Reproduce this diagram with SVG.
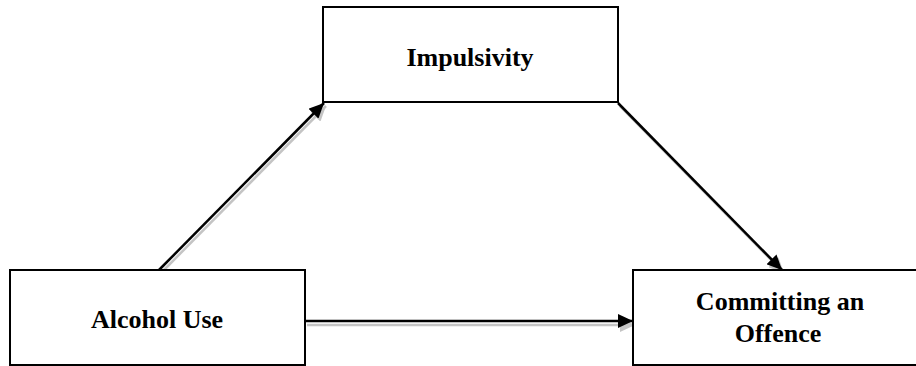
<svg xmlns="http://www.w3.org/2000/svg" width="916" height="366" viewBox="0 0 916 366">
<style>
.box{fill:#fff;stroke:#000;stroke-width:2}
.lbl{font-family:"Liberation Serif","Times New Roman",serif;font-weight:bold;font-size:26px;fill:#000;text-anchor:middle}
.conn{stroke:#000;stroke-width:2.5;fill:none}
.shadow{stroke:#c4c4c4;stroke-width:2.5;fill:none}
</style>
<defs>
<marker id="ah" viewBox="0 0 15 14" refX="15" refY="7" markerWidth="15" markerHeight="14" markerUnits="userSpaceOnUse" orient="auto">
<path d="M0,0 L15,7 L0,14 Z" fill="#000"/>
</marker>
<marker id="ahs" viewBox="0 0 15 14" refX="15" refY="7" markerWidth="15" markerHeight="14" markerUnits="userSpaceOnUse" orient="auto">
<path d="M0,0 L15,7 L0,14 Z" fill="#c4c4c4"/>
</marker>
</defs>
<rect width="916" height="366" fill="#fff"/>
<g id="connectors">
<g id="shadows">
<line class="shadow" x1="161" y1="273" x2="326" y2="106" marker-end="url(#ahs)"/>
<line class="shadow" x1="620" y1="106" x2="784" y2="273" marker-end="url(#ahs)"/>
<line class="shadow" x1="307" y1="325" x2="635" y2="325" marker-end="url(#ahs)"/>
</g>
<line class="conn" x1="159" y1="270" x2="324" y2="103" marker-end="url(#ah)"/>
<line class="conn" x1="618" y1="103" x2="782" y2="270" marker-end="url(#ah)"/>
<line class="conn" x1="305" y1="321" x2="633" y2="321" marker-end="url(#ah)"/>
</g>
<g id="impulsivity">
<rect class="box" x="323" y="7" width="295" height="95"/>
<text class="lbl" x="470" y="66">Impulsivity</text>
</g>
<g id="alcohol-use">
<rect class="box" x="10" y="270" width="295" height="95"/>
<text class="lbl" x="157" y="328">Alcohol Use</text>
</g>
<g id="committing-offence">
<rect class="box" x="633" y="270" width="300" height="95"/>
<text class="lbl" x="780" y="310">Committing an</text>
<text class="lbl" x="778" y="342">Offence</text>
</g>
</svg>
